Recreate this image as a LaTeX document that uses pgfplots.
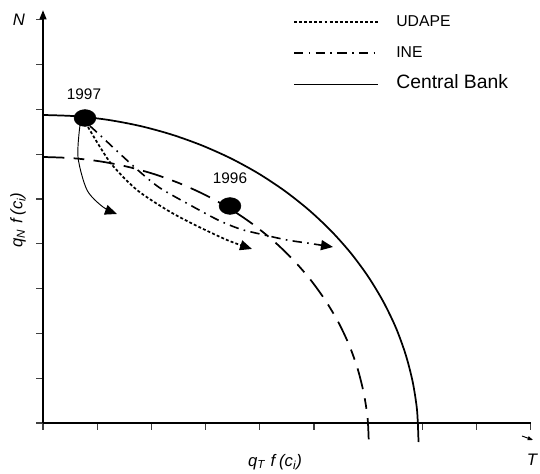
\documentclass[border=0pt]{standalone}
\usepackage{pgfplots}
\pgfplotsset{compat=1.18}
\usepackage{fontspec}
\setmainfont{Liberation Sans}
\usetikzlibrary{arrows.meta}

\begin{document}
\begin{tikzpicture}
\useasboundingbox (-32.25pt,-38.25pt) rectangle (372.75pt,317.25pt);
\clip (-32.25pt,-38.25pt) rectangle (372.75pt,317.25pt);
\begin{axis}[
  x=0.75pt, y=0.75pt, at={(0,0)}, anchor=origin,
  xmin=0, xmax=488, ymin=0, ymax=413,
  axis lines=left,
  axis line style={line width=1.5pt},
  x axis line style={-},
  y axis line style={-{Triangle[length=7pt,width=5pt]}},
  xtick={0,54.2,108.4,162.6,216.8,271,325.2,379.4,433.6,487.8},
  ytick={0,44.8,89.6,134.4,179.2,224,268.8,313.6,358.4,403.2},
  xticklabels={}, yticklabels={},
  tick align=outside, major tick length=5pt,
  tick style={line width=0.8pt, black!75},
  clip=false,
  legend style={at={(axis cs:250,409)}, anchor=north west, draw=none, fill=none,
    inner sep=0pt, row sep=11.25pt, font=\fontsize{11.8}{13}\selectfont,
    nodes={inner sep=0pt, anchor=west, text height=9pt, text depth=3pt}},
  legend cell align=left,
  legend image code/.code={\draw[#1] (0pt,0pt) -- (63pt,0pt); \path (76pt,0pt);},
]
\addlegendimage{line width=1.3pt, dash pattern=on 2.2pt off 1.6pt}
\addlegendentry{UDAPE}
\addlegendimage{line width=1.3pt, dash pattern=on 7pt off 4pt on 1.2pt off 4pt}
\addlegendentry{INE}
\addlegendimage{line width=0.7pt}
\addlegendentry{\fontsize{14.5}{16}\selectfont Central Bank}

% Central Bank frontier
\addplot[line width=1.3pt, smooth, forget plot] coordinates {
(0,308) (32.7,306.8) (65.2,303.1) (97.2,297.0) (128.4,288.5) (158.6,277.7)
(187.7,264.7) (215.3,249.6) (241.3,232.4) (265.4,213.4) (287.6,192.6)
(307.5,170.3) (325.1,146.5) (340.2,121.5) (352.8,95.5) (362.6,68.6)
(369.7,41.1) (374.0,13.2) (375.4,-15) (375.4,-19)};
% INE frontier
\addplot[line width=1.3pt, smooth, dash pattern=on 16pt off 7pt on 8pt off 7pt, forget plot] coordinates {
(0,266) (28.4,264.9) (56.6,261.7) (84.3,256.3) (111.4,248.8) (137.7,239.2)
(162.9,227.7) (186.9,214.3) (209.4,199.1) (230.4,182.2) (249.6,163.8)
(266.9,144.0) (282.1,123.0) (295.3,100.9) (306.2,77.8) (314.7,54.0)
(320.8,29.6) (324.6,4.9) (325.8,-20)};
% INE path
\addplot[line width=1.2pt, smooth, dash pattern=on 7pt off 4pt on 1.2pt off 4pt,
  -{Triangle[length=9pt,width=7.5pt]}, forget plot] coordinates {
(47,297) (59,286) (75,271) (97,251) (117,235) (147,218) (175,203) (197,194)
(217,189) (244,183) (264,180) (290,176)};
% UDAPE path
\addplot[line width=1.3pt, smooth, dash pattern=on 2.2pt off 1.6pt,
  -{Triangle[length=9pt,width=7.5pt]}, forget plot] coordinates {
(45,296) (57,276) (70,257) (94,233) (124,213) (150,199) (184,183) (209,174)};
% Central Bank path
\addplot[line width=0.7pt, smooth, -{Triangle[length=9pt,width=7.5pt]}, forget plot] coordinates {
(37,298) (35,266) (44,233) (60,216) (74,209)};
% points
\addplot[only marks, mark=*, mark size=6.3pt, mark options={xscale=1.3}, forget plot] coordinates {
(42,305) (187,217)};

\node[font=\fontsize{11.5}{13}\selectfont] at (axis cs:41,329) {1997};
\node[font=\fontsize{11.5}{13}\selectfont] at (axis cs:187,245) {1996};
\node[font=\fontsize{12.5}{14}\selectfont\itshape] at (axis cs:-24,403) {N};
\node[font=\fontsize{12.5}{14}\selectfont\itshape] at (axis cs:489,-37) {T};
\node[font=\fontsize{12.5}{14}\selectfont\itshape] at (axis cs:232,-39) {q\textsubscript{T}\hspace{4pt}f\hspace{3pt}(c\textsubscript{i})};
\node[font=\fontsize{12.5}{14}\selectfont\itshape, rotate=90] at (axis cs:-25,203) {q\textsubscript{N}\hspace{4pt}f\hspace{3pt}(c\textsubscript{i})};
\draw[line width=0.7pt, -{Triangle[length=4pt,width=3pt]}] (axis cs:479,-13) -- (axis cs:490,-17);
\end{axis}
\end{tikzpicture}
\end{document}
